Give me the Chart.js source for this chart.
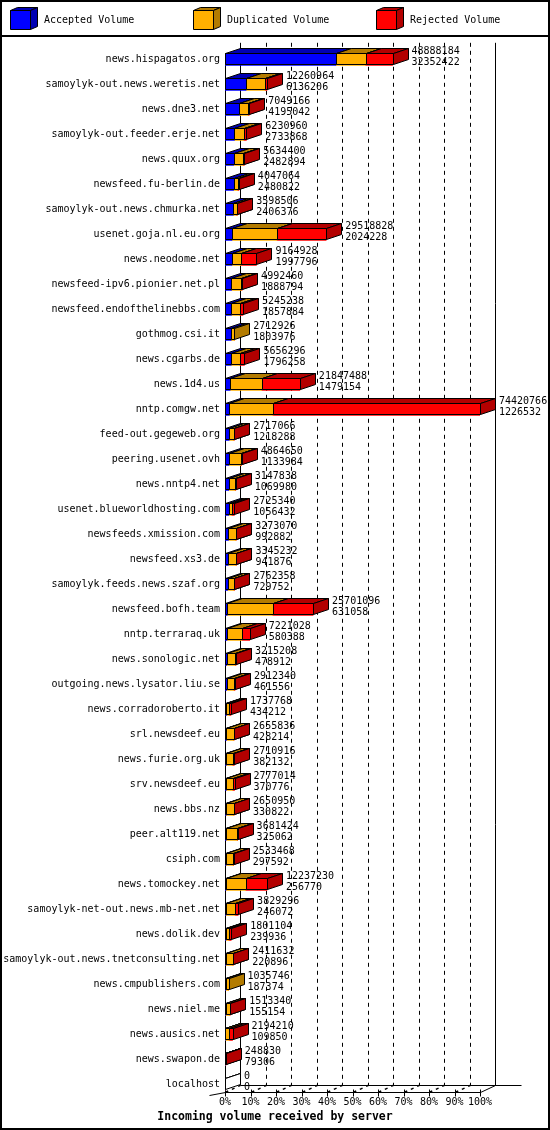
<!DOCTYPE html>
<html>
<head>
<meta charset="utf-8">
<script src="https://cdn.jsdelivr.net/npm/chart.js@4/dist/chart.umd.min.js"></script>
<style>
html,body{margin:0;padding:0;background:#fff;}
#wrap{width:550px;height:1130px;}
</style>
</head>
<body>
<div id="wrap"><canvas id="c" width="550" height="1130"></canvas></div>
<script>
// ---------------- data ----------------
const servers = [
  'news.hispagatos.org','samoylyk-out.news.weretis.net','news.dne3.net','samoylyk-out.feeder.erje.net',
  'news.quux.org','newsfeed.fu-berlin.de','samoylyk-out.news.chmurka.net','usenet.goja.nl.eu.org',
  'news.neodome.net','newsfeed-ipv6.pionier.net.pl','newsfeed.endofthelinebbs.com','gothmog.csi.it',
  'news.cgarbs.de','news.1d4.us','nntp.comgw.net','feed-out.gegeweb.org','peering.usenet.ovh',
  'news.nntp4.net','usenet.blueworldhosting.com','newsfeeds.xmission.com','newsfeed.xs3.de',
  'samoylyk.feeds.news.szaf.org','newsfeed.bofh.team','nntp.terraraq.uk','news.sonologic.net',
  'outgoing.news.lysator.liu.se','news.corradoroberto.it','srl.newsdeef.eu','news.furie.org.uk',
  'srv.newsdeef.eu','news.bbs.nz','peer.alt119.net','csiph.com','news.tomockey.net',
  'samoylyk-net-out.news.mb-net.net','news.dolik.dev','samoylyk-out.news.tnetconsulting.net',
  'news.cmpublishers.com','news.niel.me','news.ausics.net','news.swapon.de','localhost'
];
const totalVolume = [
  48888184,12260964,7049166,6230960,5634400,4047064,3598506,29518828,9164928,4992460,5245238,
  2712926,5656296,21847488,74420766,2717066,4864650,3147838,2725340,3273070,3345232,2762358,
  25701096,7221028,3215208,2912340,1737768,2655836,2710916,2777014,2650950,3681424,2533468,
  12237230,3829296,1801104,2411632,1035746,1513340,2194210,248830,0
];
const acceptedVolume = [
  32352422,6136206,4195042,2733868,2482894,2480822,2406376,2024228,1997796,1888794,1857884,
  1803976,1796258,1479154,1226532,1218288,1133984,1069980,1056432,992882,941876,729752,
  631058,580388,478912,461556,434212,428214,382132,370776,330822,325062,297592,
  256770,246072,239936,220896,187374,155154,109850,79306,0
];
const duplicatedVolume = [
  8660000,5550000,2600000,2700000,2800000,1200000,970000,13150000,2680000,2900000,2450000,
  908950,2500000,9240000,12750000,1310000,3550000,1900000,900000,2150000,2250000,1850000,
  13280000,4280000,2500000,2140000,830000,2100000,1850000,1860000,2200000,3250000,2100000,
  5780000,2680000,830000,2050000,848372,1200000,1070000,60000,0
];
const rejectedVolume = [
  7875762,574758,254124,797092,351506,366242,222130,14344600,4487132,203666,937354,
  0,1360038,11128334,60444234,188778,180666,177858,768908,130188,153356,182606,
  11790038,2360640,236296,310784,473556,127622,478784,546238,120128,106362,135876,
  6200460,903224,731168,140736,0,158186,1014360,109524,0
];
const seriesNames = ['Accepted Volume','Duplicated Volume','Rejected Volume'];
const percentTicks = [0,10,20,30,40,50,60,70,80,90,100];
const axisTitle = 'Incoming volume received by server';

// ---------------- styles ----------------
const frontColors = ['#0000ff','#ffb000','#ff0000'];
const darkColors  = ['#0000b3','#b37b00','#b30000'];
const MONO = 'DejaVu Sans Mono';
const DX = 15, DY = 5;        // bar depth
const FLOOR_DY = 7;           // floor depth

Chart.defaults.font.family = MONO;
Chart.defaults.font.size = 10;
Chart.defaults.color = '#000';

function box(ctx, x1, x2, yT, yB, front, dark, dx, dy) {
  ctx.save();
  ctx.lineWidth = 1;
  ctx.strokeStyle = '#000';
  ctx.lineJoin = 'miter';
  ctx.fillStyle = front;
  ctx.beginPath(); ctx.rect(x1, yT, x2 - x1, yB - yT); ctx.fill(); ctx.stroke();
  ctx.fillStyle = dark;
  ctx.beginPath();
  ctx.moveTo(x1, yT); ctx.lineTo(x1 + dx, yT - dy); ctx.lineTo(x2 + dx, yT - dy); ctx.lineTo(x2, yT);
  ctx.closePath(); ctx.fill(); ctx.stroke();
  ctx.beginPath();
  ctx.moveTo(x2, yT); ctx.lineTo(x2 + dx, yT - dy); ctx.lineTo(x2 + dx, yB - dy); ctx.lineTo(x2, yB);
  ctx.closePath(); ctx.fill(); ctx.stroke();
  ctx.restore();
}
const snap = v => Math.round(v) + 0.5;

const threeD = {
  id: 'threeD',
  beforeDatasetsDraw(chart) {
    const ctx = chart.ctx, ca = chart.chartArea, xp = chart.scales.xp;
    const frontBase = ca.bottom - 4.5;
    const backBase = frontBase - FLOOR_DY;
    const backTop = ca.top - 4;
    ctx.save();
    ctx.strokeStyle = '#000';
    ctx.lineWidth = 1;
    // back wall vertical grid lines
    percentTicks.forEach(v => {
      const x = snap(xp.getPixelForValue(v) + DX);
      ctx.setLineDash(v === 0 || v === 100 ? [] : [4, 4]);
      ctx.beginPath(); ctx.moveTo(x, backTop); ctx.lineTo(x, backBase); ctx.stroke();
    });
    ctx.setLineDash([]);
    // floor back line
    ctx.beginPath();
    ctx.moveTo(snap(ca.left + DX), snap(backBase));
    ctx.lineTo(snap(xp.getPixelForValue(100) + DX + 26), snap(backBase));
    ctx.stroke();
    // floor front line
    const x0 = snap(ca.left), x100 = snap(xp.getPixelForValue(100));
    ctx.beginPath();
    ctx.moveTo(x0 - 16, snap(frontBase) + 3);
    ctx.lineTo(x0, snap(frontBase));
    ctx.lineTo(x100, snap(frontBase));
    ctx.lineTo(x100 + DX, snap(backBase));
    ctx.stroke();
    // ticks
    percentTicks.forEach(v => {
      const x = snap(xp.getPixelForValue(v));
      ctx.setLineDash([]);
      ctx.beginPath(); ctx.moveTo(x, snap(frontBase) - 3); ctx.lineTo(x, snap(frontBase) + 4); ctx.stroke();
      if (v < 100) {
        ctx.lineWidth = 1.5;
        ctx.setLineDash([3, 4]);
        ctx.beginPath(); ctx.moveTo(x, frontBase); ctx.lineTo(x + DX, backBase); ctx.stroke();
        ctx.lineWidth = 1;
      }
    });
    ctx.setLineDash([]);
    // front left axis line
    const firstY = chart.getDatasetMeta(0).data[0].y - 6;
    ctx.beginPath(); ctx.moveTo(x0, firstY); ctx.lineTo(x0, snap(frontBase)); ctx.stroke();
    ctx.restore();
  },
  afterDatasetsDraw(chart) {
    const ctx = chart.ctx, xs = chart.scales.x;
    const metas = [0, 1, 2].map(i => chart.getDatasetMeta(i));
    const n = chart.data.labels.length;
    for (let j = 0; j < n; j++) {
      let drawn = false;
      let yC = 0, h = 12;
      for (let i = 0; i < 3; i++) {
        const el = metas[i].data[j];
        const p = el.getProps(['x', 'base', 'y', 'height'], true);
        yC = p.y; h = p.height;
        const v = chart.data.datasets[i].data[j];
        if (!(v > 0)) continue;
        const x1 = snap(Math.min(p.base, p.x)), x2 = snap(Math.max(p.base, p.x));
        const yT = snap(p.y - p.height / 2), yB = snap(p.y + p.height / 2) - 1;
        box(ctx, x1, x2, yT, yB, frontColors[i], darkColors[i], DX, DY);
        drawn = true;
      }
      if (!drawn) {
        const x1 = snap(xs.getPixelForValue(0));
        box(ctx, x1, x1, snap(yC - h / 2), snap(yC + h / 2) - 1, '#fff', '#fff', DX, DY);
      }
      // value labels: total on top, accepted below
      const tx = xs.getPixelForValue(totalVolume[j]) + DX + 4;
      ctx.save();
      ctx.fillStyle = '#000';
      ctx.font = '10px "' + MONO + '"';
      ctx.textAlign = 'left';
      ctx.textBaseline = 'alphabetic';
      ctx.fillText(String(totalVolume[j]), tx, yC - 5);
      ctx.fillText(String(acceptedVolume[j]), tx, yC + 5.8);
      ctx.restore();
    }
  },
  afterDraw(chart) {
    const ctx = chart.ctx;
    ctx.save();
    // legend
    const lx = [10, 193, 376];
    chart.data.datasets.forEach((ds, i) => {
      box(ctx, lx[i] + 0.5, lx[i] + 20.5, 10.5, 29.5, frontColors[i], darkColors[i], 7, 3);
      ctx.fillStyle = '#000';
      ctx.font = '10px "' + MONO + '"';
      ctx.textAlign = 'left';
      ctx.textBaseline = 'middle';
      ctx.fillText(ds.label, lx[i] + 34, 20.5);
    });
    // frame and separator
    ctx.strokeStyle = '#000';
    ctx.lineWidth = 2;
    ctx.strokeRect(1, 1, chart.width - 2, chart.height - 2);
    ctx.beginPath(); ctx.moveTo(0, 36); ctx.lineTo(chart.width, 36); ctx.stroke();
    ctx.restore();
  }
};

const datasets = [acceptedVolume, duplicatedVolume, rejectedVolume].map((arr, i) => ({
  label: seriesNames[i],
  data: arr,
  backgroundColor: frontColors[i],
  borderWidth: 0,
  barThickness: 12,
  stack: 'vol',
  xAxisID: 'x',
  yAxisID: 'y'
}));

new Chart(document.getElementById('c'), {
  type: 'bar',
  data: { labels: servers, datasets },
  plugins: [threeD],
  options: {
    indexAxis: 'y',
    responsive: false,
    devicePixelRatio: 1,
    animation: false,
    layout: { padding: { top: 46.8, right: 0, bottom: 3.9, left: 0 } },
    plugins: {
      legend: { display: false },
      tooltip: { enabled: false },
      title: {
        display: true,
        position: 'bottom',
        text: axisTitle,
        color: '#000',
        font: { family: MONO, size: 11.5, weight: 'bold', lineHeight: 1.2 },
        padding: { top: 2, bottom: 2 }
      }
    },
    scales: {
      y: {
        type: 'category',
        stacked: true,
        grid: { display: false, drawTicks: false },
        border: { display: false },
        ticks: { padding: 5, autoSkip: false, color: '#000', font: { family: MONO, size: 10 } },
        afterFit: s => { s.width = 225; }
      },
      yr: {
        type: 'linear',
        position: 'right',
        min: 0,
        max: 1,
        grid: { display: false, drawTicks: false },
        border: { display: false },
        ticks: { display: false },
        afterFit: s => { s.width = 70; }
      },
      x: {
        type: 'linear',
        stacked: true,
        display: false,
        min: 0,
        max: Math.max(...totalVolume)
      },
      xp: {
        type: 'linear',
        position: 'bottom',
        min: percentTicks[0],
        max: percentTicks[percentTicks.length - 1],
        grid: { display: false, drawTicks: false },
        border: { display: false },
        ticks: {
          stepSize: 10, padding: 0, maxRotation: 0, autoSkip: false, color: '#000',
          font: { family: MONO, size: 10 },
          callback: v => v + '%'
        },
        afterFit: s => { s.height = 11.5; }
      }
    }
  }
});
</script>
</body>
</html>
